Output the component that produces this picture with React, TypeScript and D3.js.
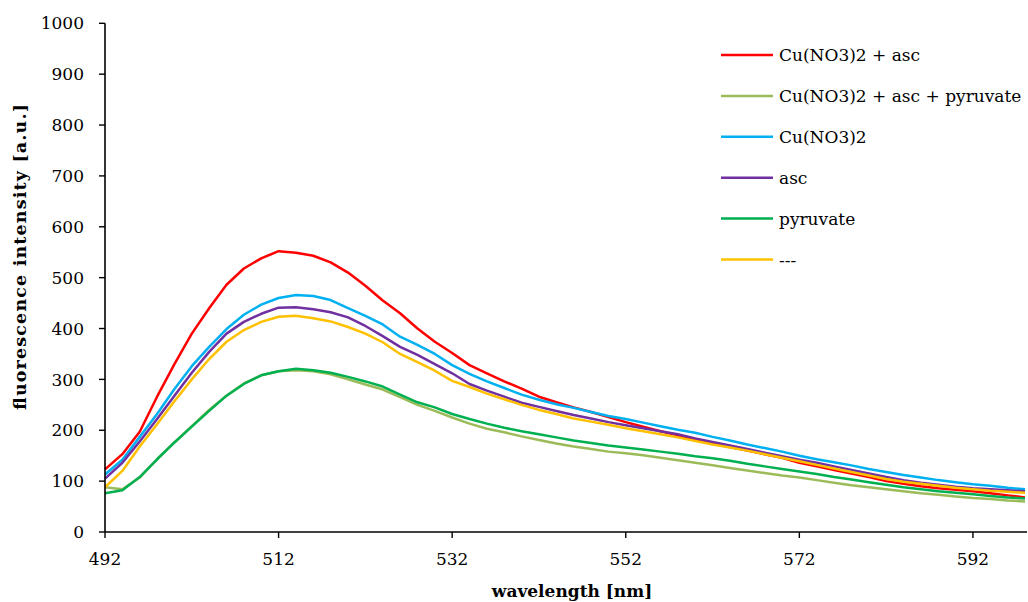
import React from "react";
import * as d3 from "d3";

const wavelengths: number[] = [
  492, 494, 496, 498, 500, 502, 504, 506, 508, 510, 512, 514, 516, 518, 520, 522, 524, 526,
  528, 530, 532, 534, 536, 538, 540, 542, 544, 546, 548, 550, 552, 554, 556, 558, 560, 562,
  564, 566, 568, 570, 572, 574, 576, 578, 580, 582, 584, 586, 588, 590, 592, 594, 596, 598,
];

const cuAsc: number[] = [
  123, 153, 197, 266, 330, 390, 440, 486, 518, 538, 552, 549, 543, 530, 510, 484, 455, 430,
  400, 374, 352, 328, 312, 296, 282, 266, 255, 245, 236, 226, 216, 207, 198, 190, 182, 174,
  167, 160, 153, 146, 136, 129, 122, 115, 108, 100, 95, 90, 86, 83, 80, 76, 72, 68,
];

const cuAscPyruvate: number[] = [
  88, 84, 107, 143, 176, 208, 240, 268, 292, 308, 316, 318, 316, 310, 300, 290, 280, 265,
  250, 238, 225, 213, 203, 196, 188, 181, 174, 168, 163, 158, 155, 151, 146, 141, 136, 131,
  126, 121, 116, 111, 107, 102, 97, 92, 88, 84, 80, 76, 73, 70, 67, 65, 62, 60,
];

const cuOnly: number[] = [
  113, 142, 187, 232, 281, 326, 364, 399, 427, 447, 460, 466, 464, 456, 440, 425, 408, 384,
  368, 350, 328, 311, 296, 283, 270, 260, 251, 244, 236, 228, 222, 215, 208, 201, 195, 187,
  180, 172, 165, 158, 150, 143, 137, 131, 124, 118, 112, 107, 102, 98, 94, 91, 87, 84,
];

const ascOnly: number[] = [
  105, 136, 178, 222, 268, 313, 354, 390, 413, 429, 441, 442, 438, 432, 422, 405, 385, 364,
  348, 330, 312, 291, 278, 266, 254, 246, 238, 230, 223, 216, 210, 204, 198, 192, 184, 177,
  170, 163, 156, 149, 142, 136, 129, 122, 115, 108, 102, 97, 93, 89, 86, 84, 82, 80,
];

const pyruvateOnly: number[] = [
  76, 82, 108, 143, 176, 207, 238, 268, 291, 308, 316, 321, 318, 313, 305, 296, 286, 270,
  255, 245, 232, 222, 213, 205, 198, 192, 186, 180, 175, 170, 166, 162, 158, 154, 149, 145,
  140, 134, 129, 124, 119, 114, 108, 103, 98, 93, 88, 84, 80, 77, 74, 71, 68, 66,
];

const blank: number[] = [
  88, 120, 168, 212, 257, 300, 340, 374, 397, 413, 423, 425, 420, 414, 403, 390, 373, 350,
  334, 317, 297, 285, 272, 261, 250, 240, 232, 223, 217, 211, 204, 198, 192, 186, 179, 172,
  166, 160, 153, 146, 139, 132, 125, 118, 111, 104, 99, 95, 91, 87, 84, 81, 79, 77,
];

const seriesNames: string[] = [
  "Cu(NO3)2 + asc",
  "Cu(NO3)2 + asc + pyruvate",
  "Cu(NO3)2",
  "asc",
  "pyruvate",
  "---",
];
const seriesValues: number[][] = [cuAsc, cuAscPyruvate, cuOnly, ascOnly, pyruvateOnly, blank];
const seriesColors: string[] = ["#FF0000", "#9BBB59", "#00B0F0", "#7030A0", "#00B050", "#FFC000"];

const xTicks: number[] = [492, 512, 532, 552, 572, 592];
const yTicks: number[] = [0, 100, 200, 300, 400, 500, 600, 700, 800, 900, 1000];

const FONT = "'DejaVu Serif', serif";

export default function App() {
  const width = 1028;
  const height = 602;
  const x = d3.scaleLinear().domain([492, 598]).range([105, 1025]);
  const y = d3.scaleLinear().domain([0, 1000]).range([532, 23.3]);
  const line = d3
    .line<[number, number]>()
    .x((d) => x(d[0]))
    .y((d) => y(d[1]));

  const legendX = 721;
  const legendY0 = 55;
  const legendStep = 40.9;

  return (
    <svg
      width={width}
      height={height}
      style={{ position: "absolute", left: 0, top: 0, background: "#fff" }}
    >
      <rect x={0} y={0} width={width} height={height} fill="#fff" />
      {seriesValues.map((vals, i) => (
        <path
          key={seriesNames[i]}
          d={line(wavelengths.map((w, j) => [w, vals[j]] as [number, number])) || ""}
          fill="none"
          stroke={seriesColors[i]}
          strokeWidth={2.5}
          strokeLinejoin="round"
        />
      ))}
      {/* axes */}
      <line x1={105} x2={105} y1={y(1000)} y2={y(0)} stroke="#000" strokeWidth={1.6} />
      <line x1={105} x2={1027} y1={y(0)} y2={y(0)} stroke="#000" strokeWidth={1.6} />
      {yTicks.map((t) => (
        <g key={"y" + t}>
          <line x1={99} x2={105} y1={y(t)} y2={y(t)} stroke="#000" strokeWidth={1.4} />
          <text
            x={84}
            y={y(t)}
            dy="0.36em"
            textAnchor="end"
            fontFamily={FONT}
            fontSize={17}
            fill="#000"
          >
            {t}
          </text>
        </g>
      ))}
      {xTicks.map((t) => (
        <g key={"x" + t}>
          <line x1={x(t)} x2={x(t)} y1={y(0)} y2={y(0) + 6} stroke="#000" strokeWidth={1.4} />
          <text
            x={x(t)}
            y={565}
            textAnchor="middle"
            fontFamily={FONT}
            fontSize={17}
            fill="#000"
          >
            {t}
          </text>
        </g>
      ))}
      <text
        x={572}
        y={597}
        textAnchor="middle"
        fontFamily={FONT}
        fontSize={17}
        fontWeight="bold"
        fill="#000"
      >
        wavelength [nm]
      </text>
      <text
        transform={`translate(26, 257) rotate(-90)`}
        textAnchor="middle"
        fontFamily={FONT}
        fontSize={17.5}
        fontWeight="bold"
        textLength={306}
        lengthAdjust="spacing"
        fill="#000"
      >
        fluorescence intensity [a.u.]
      </text>
      {seriesNames.map((name, i) => (
        <g key={"lg" + i}>
          <line
            x1={legendX}
            x2={legendX + 52}
            y1={legendY0 + i * legendStep}
            y2={legendY0 + i * legendStep}
            stroke={seriesColors[i]}
            strokeWidth={2.5}
          />
          <text
            x={779}
            y={legendY0 + i * legendStep}
            dy="0.36em"
            fontFamily={FONT}
            fontSize={17}
            fill="#000"
          >
            {name}
          </text>
        </g>
      ))}
    </svg>
  );
}
